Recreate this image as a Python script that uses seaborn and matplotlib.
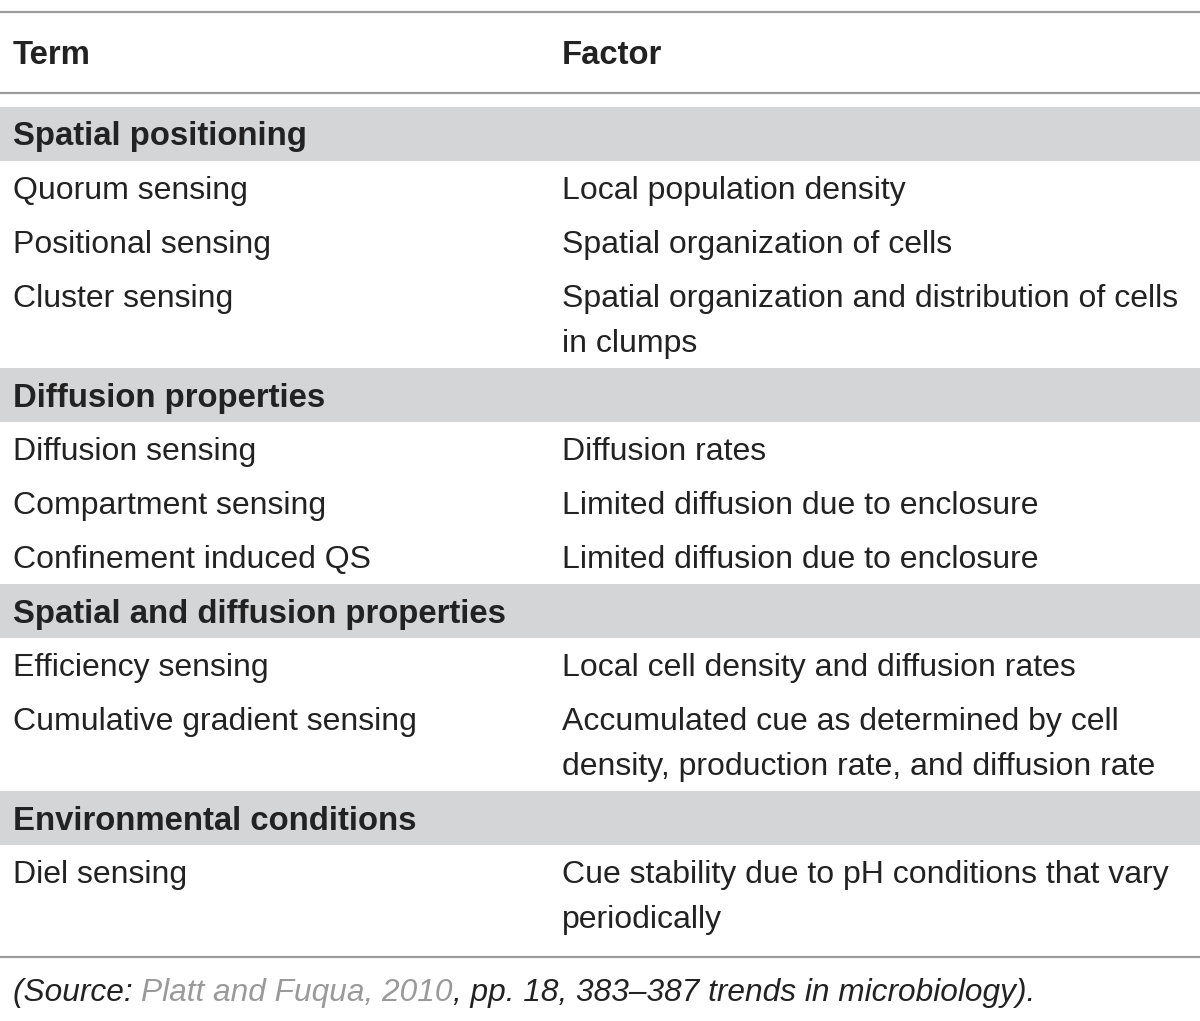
import matplotlib
matplotlib.use('Agg')
import matplotlib.pyplot as plt
import seaborn as sns

sns.set_theme(style='white')
plt.rcParams['font.family'] = ['Liberation Sans', 'DejaVu Sans']

# Table contents
headers = ['Term', 'Factor']
groups = ['Spatial positioning', 'Diffusion properties',
          'Spatial and diffusion properties', 'Environmental conditions']
terms = [
    ['Quorum sensing', 'Positional sensing', 'Cluster sensing'],
    ['Diffusion sensing', 'Compartment sensing', 'Confinement induced QS'],
    ['Efficiency sensing', 'Cumulative gradient sensing'],
    ['Diel sensing'],
]
factors = [
    [['Local population density'],
     ['Spatial organization of cells'],
     ['Spatial organization and distribution of cells', 'in clumps']],
    [['Diffusion rates'],
     ['Limited diffusion due to enclosure'],
     ['Limited diffusion due to enclosure']],
    [['Local cell density and diffusion rates'],
     ['Accumulated cue as determined by cell',
      'density, production rate, and diffusion rate']],
    [['Cue stability due to pH conditions that vary', 'periodically']],
]
source_parts = [('(Source: ', '#222222'), ('Platt and Fuqua, 2010', '#9a9a9a'),
                (', pp. 18, 383\u2013387 trends in microbiology).', '#222222')]

W, H = 1200, 1021
fig = plt.figure(figsize=(W / 100, H / 100), dpi=100)
ax = fig.add_axes([0, 0, 1, 1])
ax.set_xlim(0, W)
ax.set_ylim(H, 0)
ax.axis('off')

col_x = [13, 562]
fs = 23
fs_bold = 23.7
fs_src = 22.8
txt = '#222222'
rule = '#9b9b9b'
band = '#d4d5d7'
row_h = 54
wrap_h = 45
dy = 3  # nudge text down to sit like the reference

ax.axhline(12, color=rule, lw=1.6)
for x, h in zip(col_x, headers):
    ax.text(x, 53 + dy, h, fontsize=fs_bold, fontweight='bold', color=txt, va='center')
ax.axhline(93, color=rule, lw=1.6)

y = 134
for g, ts, fs_rows in zip(groups, terms, factors):
    ax.axhspan(y - 27, y + 27, color=band, lw=0)
    ax.text(col_x[0], y + dy, g, fontsize=fs_bold, fontweight='bold', color=txt, va='center')
    for t, f in zip(ts, fs_rows):
        y += row_h
        ax.text(col_x[0], y + dy, t, fontsize=fs, color=txt, va='center')
        for i, line in enumerate(f):
            ax.text(col_x[1], y + dy + i * wrap_h, line, fontsize=fs, color=txt, va='center')
        y += (len(f) - 1) * wrap_h
    y += row_h

ax.axhline(957, color=rule, lw=1.6)

# source line, pieces chained horizontally
fig.canvas.draw()
r = fig.canvas.get_renderer()
x = col_x[0]
for s, c in source_parts:
    t = ax.text(x, 990 + dy, s, fontsize=fs_src, style='italic', color=c, va='center')
    bb = t.get_window_extent(r)
    x += bb.width

fig.savefig('out.png', dpi=100)
